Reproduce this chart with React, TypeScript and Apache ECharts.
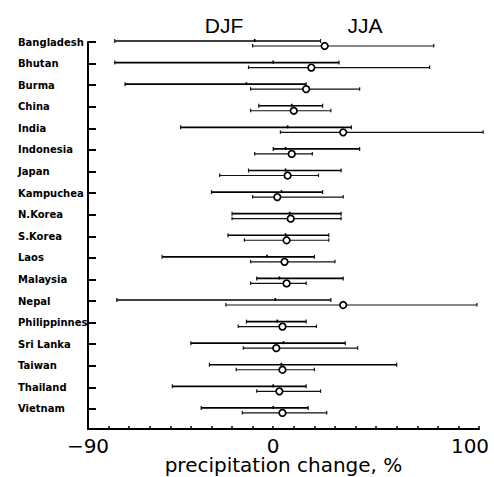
import { useEffect, useRef } from "react";
import * as echarts from "echarts";

const countries = [
  "Bangladesh", "Bhutan", "Burma", "China", "India", "Indonesia", "Japan",
  "Kampuchea", "N.Korea", "S.Korea", "Laos", "Malaysia", "Nepal",
  "Philippinnes", "Sri Lanka", "Taiwan", "Thailand", "Vietnam",
];
// DJF range (upper bar): min, mean, max
const djfMin = [-77, -77, -72, -7, -45, 0, -12, -30, -20, -22, -54, -8, -76, -13, -40, -31, -49, -35];
const djfMean = [-9, 0, -13, 9, 7, 6, 6, 4, 8, 6, -3, 3, 1, 2, 5, 4, 0, 0];
const djfMax = [23, 32, 16, 24, 38, 42, 33, 24, 33, 27, 20, 34, 28, 16, 35, 60, 16, 17];
// JJA range (lower bar): min, mean, max
const jjaMin = [-10, -12, -11, -11, 3.5, -9, -26, -10, -20, -14, -11, -11, -23, -17, -14.5, -18, -8, -15];
const jjaMean = [25, 18.5, 16, 10, 34, 9, 7, 2, 8.5, 6.5, 5.5, 6.5, 34, 4.5, 1.5, 4.5, 3, 4.5];
const jjaMax = [78, 76, 42, 28, 102, 19, 22, 34, 33, 27, 30, 16, 99, 21, 41, 20, 23, 26];

const xLabelValues = [-90, 0, 100];
const seasonTitles = ["DJF", "JJA"];

export default function App() {
  const ref = useRef<HTMLDivElement>(null);
  useEffect(() => {
    const chart = echarts.init(ref.current!, null, { renderer: "svg" });
    const data = countries.map((_, i) => [
      i, djfMin[i], djfMean[i], djfMax[i], jjaMin[i], jjaMean[i], jjaMax[i],
    ]);
    const renderItem = (params: any, api: any) => {
      const i = api.value(0);
      const c = (k: number) => api.coord([api.value(k), i]);
      const y = c(1)[1];
      const a1 = c(1)[0], am = c(2)[0], a2 = c(3)[0];
      const b1 = c(4)[0], bm = c(5)[0], b2 = c(6)[0];
      const yu = y - 1;
      const yl = y + 4;
      const s1 = { stroke: "#000", lineWidth: 1.7 };
      const s2 = { stroke: "#111", lineWidth: 1.2 };
      return {
        type: "group",
        children: [
          { type: "line", shape: { x1: a1, y1: yu, x2: a2, y2: yu }, style: s1 },
          { type: "line", shape: { x1: a1, y1: yu - 2, x2: a1, y2: yu + 2 }, style: s2 },
          { type: "line", shape: { x1: a2, y1: yu - 2, x2: a2, y2: yu + 2 }, style: s2 },
          { type: "line", shape: { x1: am, y1: yu - 2, x2: am, y2: yu + 1 }, style: s1 },
          { type: "line", shape: { x1: b1, y1: yl, x2: b2, y2: yl }, style: s2 },
          { type: "line", shape: { x1: b1, y1: yl - 2, x2: b1, y2: yl + 1.5 }, style: s2 },
          { type: "line", shape: { x1: b2, y1: yl - 2, x2: b2, y2: yl + 1.5 }, style: s2 },
          {
            type: "circle",
            shape: { cx: bm, cy: yl, r: 3.3 },
            style: { fill: "#fff", stroke: "#000", lineWidth: 1.7 },
          },
        ],
      };
    };
    chart.setOption({
      animation: false,
      backgroundColor: "#fff",
      grid: { left: 88, right: 15, top: 42, bottom: 48, outerBoundsMode: "none", containLabel: false },
      graphic: [
        {
          type: "text", x: 224, y: 25,
          style: { text: seasonTitles[0], font: "21px 'Liberation Sans'", fill: "#000", align: "center", verticalAlign: "middle" },
        },
        {
          type: "text", x: 365, y: 25,
          style: { text: seasonTitles[1], font: "21px 'Liberation Sans'", fill: "#000", align: "center", verticalAlign: "middle" },
        },
      ],
      xAxis: {
        type: "value",
        position: "bottom",
        min: -90,
        max: 100,
        interval: 10,
        splitLine: { show: false },
        axisLine: { onZero: false, lineStyle: { color: "#000", width: 2 } },
        axisTick: { inside: true, length: 3, lineStyle: { color: "#000", width: 1.5 } },
        axisLabel: {
          margin: 9,
          color: "#000",
          fontFamily: "DejaVu Sans",
          fontSize: 20,
          lineHeight: 16,
          formatter: (v: number) => {
            if (!xLabelValues.includes(v)) return "";
            if (v === 100) return "{r|100}";
            return v < 0 ? "\u2212" + Math.abs(v) : String(v);
          },
          rich: {
            r: { fontFamily: "DejaVu Sans", fontSize: 20, lineHeight: 16, color: "#000", padding: [0, 18, 0, 0] },
          },
        },
        name: "precipitation change, %",
        nameLocation: "middle",
        nameGap: 26,
        nameMoveOverlap: false,
        nameTextStyle: { color: "#000", fontFamily: "DejaVu Sans", fontSize: 20, lineHeight: 20, verticalAlign: "top" },
      },
      yAxis: {
        type: "value",
        position: "left",
        inverse: true,
        min: 0,
        max: 17.93,
        interval: 1,
        splitLine: { show: false },
        axisLine: { onZero: false, lineStyle: { color: "#000", width: 2 } },
        axisTick: { inside: true, length: 8, lineStyle: { color: "#000", width: 2 } },
        axisLabel: {
          align: "left",
          margin: 70,
          color: "#000",
          fontFamily: "DejaVu Sans",
          fontWeight: "bold",
          fontSize: 10,
          formatter: (v: number) =>
            Number.isInteger(v) && countries[v] !== undefined ? countries[v] : "",
        },
      },
      series: [
        {
          type: "custom",
          name: "DJF / JJA",
          renderItem,
          data,
          clip: false,
          encode: { x: [1, 2, 3, 4, 5, 6], y: 0 },
        },
      ],
    });
    return () => chart.dispose();
  }, []);
  return (
    <div
      ref={ref}
      style={{ position: "absolute", left: 0, top: 0, width: 494, height: 477 }}
    />
  );
}
